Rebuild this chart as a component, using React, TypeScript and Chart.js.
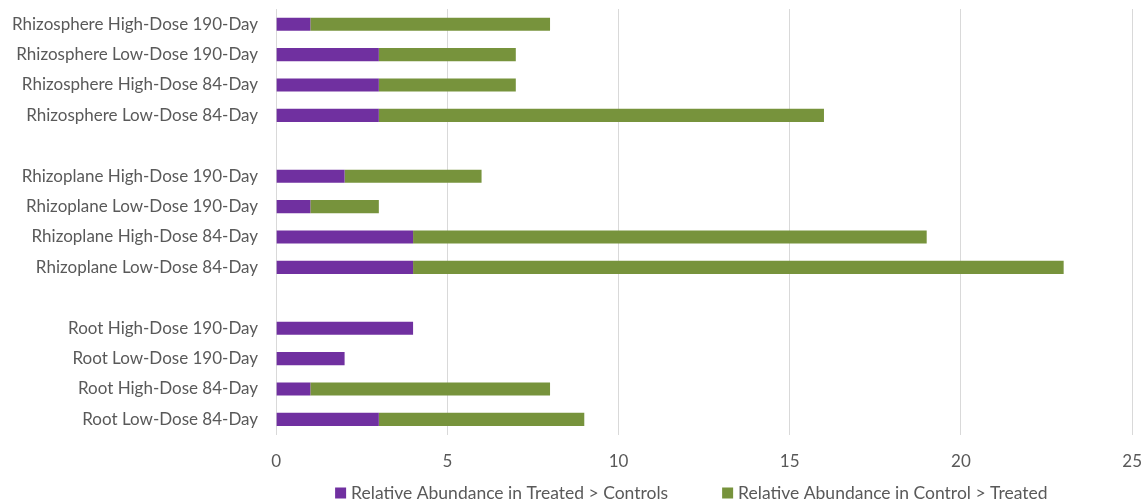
import React, { useEffect, useRef } from "react";
import { Chart, registerables } from "chart.js";

Chart.register(...registerables);

// Category rows, top to bottom; blank labels are spacer rows between groups
const categories: string[] = [
  "Rhizosphere High-Dose 190-Day",
  "Rhizosphere Low-Dose 190-Day",
  "Rhizosphere High-Dose 84-Day",
  "Rhizosphere Low-Dose 84-Day",
  "",
  "Rhizoplane High-Dose 190-Day",
  "Rhizoplane Low-Dose 190-Day",
  "Rhizoplane High-Dose 84-Day",
  "Rhizoplane Low-Dose 84-Day",
  " ",
  "Root High-Dose 190-Day",
  "Root Low-Dose 190-Day",
  "Root High-Dose 84-Day",
  "Root Low-Dose 84-Day",
];

const treatedGtControls: (number | null)[] = [1, 3, 3, 3, null, 2, 1, 4, 4, null, 4, 2, 1, 3];
const controlGtTreated: (number | null)[] = [7, 4, 4, 13, null, 4, 2, 15, 19, null, 0, 0, 7, 6];

const seriesNames: string[] = [
  "Relative Abundance in Treated > Controls",
  "Relative Abundance in Control > Treated",
];
const seriesColors: string[] = ["#7030A0", "#77933C"];

const xMin = 0;
const xMax = 25;
const xStep = 5;

const FONT = "Lato, 'Open Sans', sans-serif";
const TEXT = "#595959";

// Legend row drawn under the axis: square swatch followed by the series name
const bottomLegend = {
  id: "bottomLegend",
  afterDraw(chart: Chart) {
    const { ctx, chartArea } = chart;
    const box = 11;
    const boxGap = 5;
    const itemGap = 54;
    const y = 493;
    ctx.save();
    ctx.font = `17.5px ${FONT}`;
    ctx.textBaseline = "middle";
    ctx.textAlign = "left";
    let x = chartArea.left + 59;
    chart.data.datasets.forEach((ds) => {
      const label = String(ds.label ?? "");
      ctx.fillStyle = String(ds.backgroundColor);
      ctx.fillRect(x, y - box / 2, box, box);
      x += box + boxGap;
      ctx.fillStyle = TEXT;
      ctx.fillText(label, x, y);
      x += ctx.measureText(label).width + itemGap;
    });
    ctx.restore();
  },
};

export default function App() {
  const ref = useRef<HTMLCanvasElement | null>(null);

  useEffect(() => {
    document.body.style.margin = "0";
    const canvas = ref.current;
    if (!canvas) return;
    const chart = new Chart(canvas, {
      type: "bar",
      data: {
        labels: categories,
        datasets: [
          {
            label: seriesNames[0],
            data: treatedGtControls,
            backgroundColor: seriesColors[0],
            categoryPercentage: 1,
            barPercentage: 0.43,
          },
          {
            label: seriesNames[1],
            data: controlGtTreated,
            backgroundColor: seriesColors[1],
            categoryPercentage: 1,
            barPercentage: 0.43,
          },
        ],
      },
      options: {
        indexAxis: "y",
        animation: false,
        responsive: false,
        maintainAspectRatio: false,
        layout: { padding: { top: 9, right: 0, bottom: 26, left: 12 } },
        scales: {
          x: {
            stacked: true,
            min: xMin,
            max: xMax,
            ticks: {
              stepSize: xStep,
              color: TEXT,
              font: { family: FONT, size: 17 },
              padding: 2,
            },
            grid: {
              color: "#d9d9d9",
              lineWidth: 1,
              drawTicks: true,
              tickLength: 15,
              tickColor: "rgba(0,0,0,0)",
            },
            border: { display: false },
          },
          y: {
            stacked: true,
            ticks: {
              color: TEXT,
              font: { family: FONT, size: 17, lineHeight: 1.05 },
              padding: 0,
              autoSkip: false,
            },
            grid: {
              display: true,
              drawOnChartArea: false,
              drawTicks: true,
              tickLength: 18,
              tickColor: "rgba(0,0,0,0)",
            },
            border: { display: false },
          },
        },
        plugins: {
          legend: { display: false },
          tooltip: { enabled: false },
        },
      },
      plugins: [bottomLegend],
    });
    return () => chart.destroy();
  }, []);

  return (
    <div style={{ width: 1144, height: 500, background: "#ffffff" }}>
      <canvas ref={ref} width={1144} height={500} />
    </div>
  );
}
